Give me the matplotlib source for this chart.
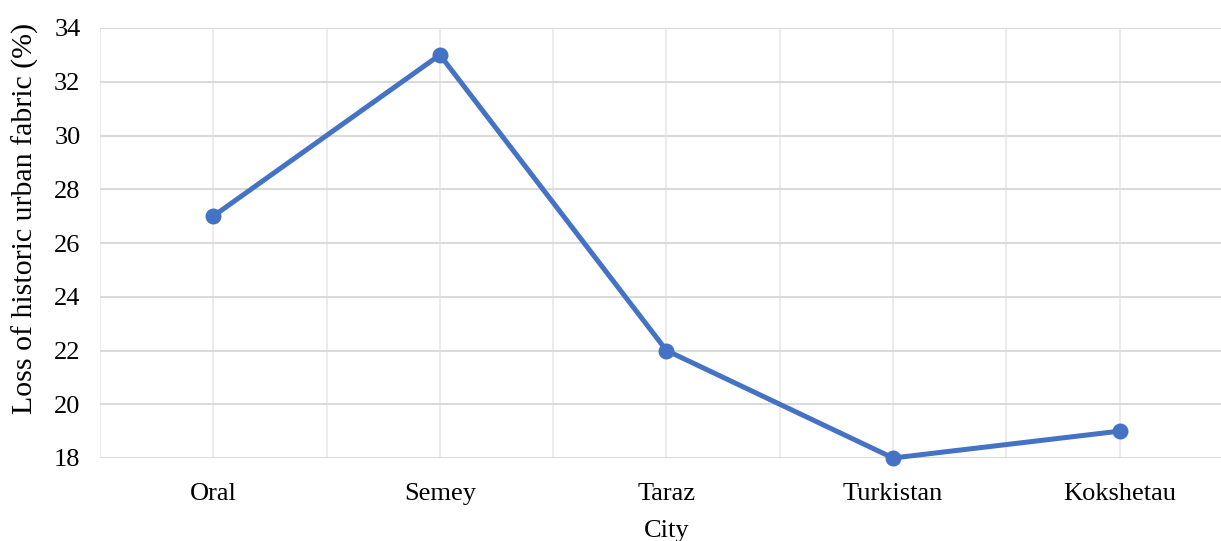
import numpy as np
import matplotlib.pyplot as plt

plt.rcParams['font.family'] = ['Liberation Serif', 'DejaVu Serif']

cities = ['Oral', 'Semey', 'Taraz', 'Turkistan', 'Kokshetau']
loss = [27, 33, 22, 18, 19]
yticks = [18, 20, 22, 24, 26, 28, 30, 32, 34]

fig = plt.figure(figsize=(12.21, 5.41), dpi=100)
ax = fig.add_axes([100/1221, 83/541, 1133/1221, 430/541])

x = np.arange(len(cities))
ax.plot(x, loss, color='#4472C4', lw=3.6, marker='o', ms=10.5, zorder=3, clip_on=False)

ax.set_xlim(-0.5, len(cities) - 0.5)
ax.set_ylim(18, 34)
ax.set_yticks(yticks)
ax.set_xticks(x)
ax.set_xticklabels(cities)
ax.set_xticks(np.arange(-0.5, len(cities), 1.0), minor=True)

ax.grid(axis='y', color='#d9d9d9', lw=1.4)
ax.grid(axis='x', which='both', color='#ececec', lw=1.4)
ax.set_axisbelow(True)
for s in ax.spines.values():
    s.set_visible(False)
ax.tick_params(which='both', length=0, labelsize=19, colors='black')
ax.tick_params(axis='x', pad=18)
ax.tick_params(axis='y', pad=14)

ax.set_xlabel('City', fontsize=19, labelpad=11)
fig.text(25/1221, 1 - 218/541, 'Loss of historic urban fabric (%)', fontsize=21.5,
         rotation=90, ha='center', va='center')

fig.savefig('out.png', dpi=100, facecolor='white')
